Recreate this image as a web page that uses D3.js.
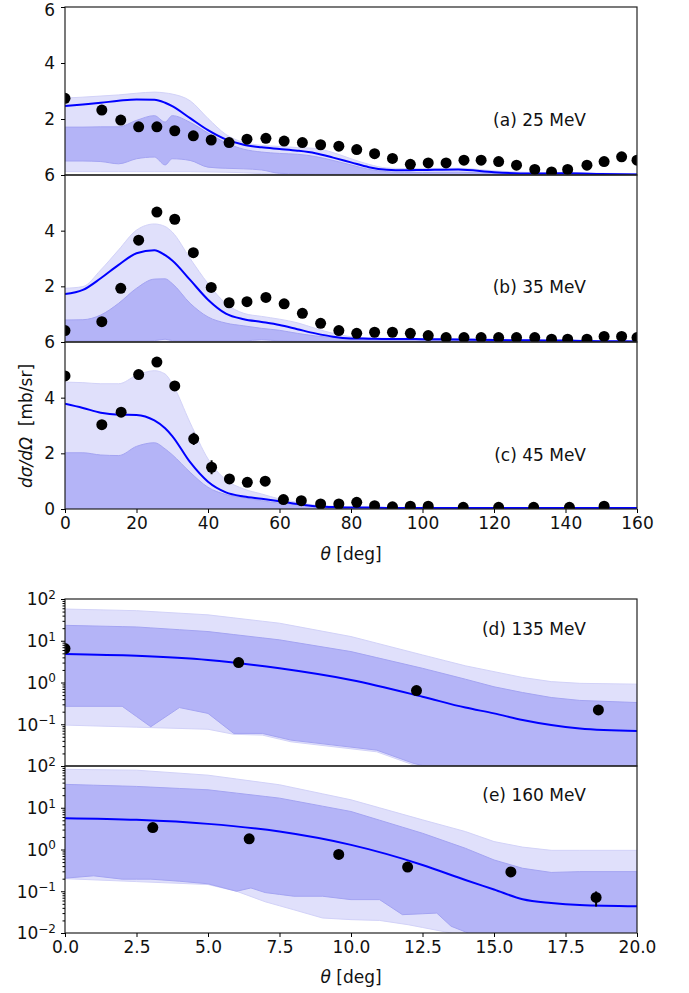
<!DOCTYPE html>
<html>
<head>
<meta charset="utf-8">
<script src="https://cdn.jsdelivr.net/npm/d3@7"></script>
<style>
  body { margin: 0; background: #fff; }
  svg { display: block; font-family: 'DejaVu Sans', sans-serif; }
</style>
</head>
<body>
<svg id="chart" width="689" height="993"></svg>
<script>
// ---------- data ----------
// top three panels: angle in deg, cross section in mb/sr
const thetaAB = [0, 10.3, 15.6, 20.6, 25.7, 30.7, 35.9, 40.9, 45.9, 50.9, 56.2, 61.3, 66.4, 71.5, 76.6, 81.6, 86.6, 91.6, 96.6, 101.6, 106.6, 111.6, 116.4, 121.3, 126.3, 131.4, 136.1, 140.6, 146.0, 150.8, 155.7, 160]
const sigmaA = [2.74, 2.32, 1.96, 1.72, 1.72, 1.58, 1.40, 1.25, 1.16, 1.28, 1.31, 1.21, 1.16, 1.08, 1.03, 0.91, 0.76, 0.59, 0.38, 0.43, 0.43, 0.53, 0.53, 0.48, 0.35, 0.20, 0.11, 0.20, 0.35, 0.48, 0.65, 0.53]
const sigmaB = [0.41, 0.73, 1.93, 3.66, 4.67, 4.41, 3.21, 1.96, 1.41, 1.45, 1.60, 1.37, 1.03, 0.67, 0.41, 0.31, 0.35, 0.35, 0.31, 0.23, 0.16, 0.16, 0.16, 0.16, 0.16, 0.16, 0.10, 0.10, 0.10, 0.20, 0.20, 0.16]
const thetaC = [0, 10.3, 15.7, 20.6, 25.7, 30.7, 36.0, 41.0, 46.0, 51.0, 56.0, 61.1, 66.1, 71.5, 76.6, 81.6, 86.6, 91.6, 96.6, 101.6, 111.4, 121.3, 131.1, 141.1, 150.8]
const sigmaC = [4.78, 3.03, 3.48, 4.83, 5.28, 4.42, 2.52, 1.50, 1.08, 0.96, 1.00, 0.34, 0.30, 0.18, 0.18, 0.24, 0.12, 0.08, 0.10, 0.10, 0.06, 0.06, 0.06, 0.06, 0.10]
const errC = [0.12, 0.08, 0.10, 0.12, 0.15, 0.12, 0.22, 0.25, 0.10, 0.10, 0.12, 0.08, 0.08, 0.06, 0.06, 0.06, 0.05, 0.05, 0.05, 0.05, 0.04, 0.04, 0.04, 0.04, 0.06]

// theory curve grid for the top panels
const gridTop = [0, 5, 10, 15, 20, 25, 28, 30, 35, 40, 45, 50, 55, 60, 65, 70, 75, 80, 85, 90, 95, 100, 110, 120, 130, 140, 150, 160]
const lineA = [2.46, 2.52, 2.58, 2.65, 2.70, 2.69, 2.58, 2.46, 2.03, 1.60, 1.27, 1.08, 0.99, 0.93, 0.87, 0.78, 0.62, 0.45, 0.28, 0.19, 0.17, 0.18, 0.20, 0.10, 0.05, 0.06, 0.04, 0.02]
const hi95A = [2.75, 2.78, 2.82, 2.86, 2.92, 2.96, 2.93, 2.89, 2.65, 2.02, 1.45, 1.16, 1.06, 1.02, 0.98, 0.95, 0.80, 0.58, 0.38, 0.25, 0.23, 0.23, 0.24, 0.15, 0.09, 0.08, 0.06, 0.05]
const hi68A = [1.71, 1.71, 1.72, 1.72, 1.95, 2.12, 1.89, 2.12, 1.88, 1.50, 1.15, 0.92, 0.82, 0.77, 0.74, 0.66, 0.52, 0.36, 0.20, 0.12, 0.09, 0.09, 0.10, 0.06, 0.05, 0.05, 0.04, 0.03]
const lo68A = [0.50, 0.50, 0.48, 0.40, 0.58, 0.64, 0.36, 0.58, 0.52, 0.28, 0.24, 0.22, 0.18, 0.06, 0.04, 0.03, 0.03, 0.03, 0.02, 0.02, 0.02, 0.02, 0.02, 0.02, 0.02, 0.02, 0.02, 0.02]
const lo95A = [0.12, 0.12, 0.12, 0.12, 0.12, 0.12, 0.12, 0.12, 0.12, 0.11, 0.10, 0.08, 0.05, 0.02, 0.01, 0.01, 0.01, 0.01, 0.01, 0.01, 0.01, 0.01, 0.01, 0.01, 0.01, 0.01, 0.01, 0.01]

const lineB = [1.72, 1.87, 2.29, 2.77, 3.19, 3.30, 3.12, 2.93, 2.23, 1.52, 1.02, 0.82, 0.72, 0.61, 0.46, 0.31, 0.19, 0.13, 0.12, 0.11, 0.11, 0.10, 0.09, 0.07, 0.06, 0.05, 0.03, 0.02]
const hi95B = [1.93, 1.99, 2.59, 3.31, 4.02, 4.24, 4.15, 3.95, 3.00, 2.10, 1.38, 1.03, 0.92, 0.82, 0.69, 0.49, 0.31, 0.19, 0.15, 0.13, 0.13, 0.12, 0.12, 0.10, 0.08, 0.06, 0.05, 0.04]
const hi68B = [0.79, 0.80, 0.97, 1.39, 1.93, 2.26, 2.27, 2.10, 1.39, 0.90, 0.68, 0.58, 0.49, 0.42, 0.31, 0.22, 0.16, 0.11, 0.09, 0.08, 0.07, 0.06, 0.05, 0.05, 0.04, 0.03, 0.02, 0.01]
const lo68B = [0.04, 0.04, 0.04, 0.04, 0.04, 0.05, 0.10, 0.05, 0.04, 0.04, 0.04, 0.04, 0.08, 0.04, 0.03, 0.02, 0.02, 0.02, 0.01, 0.01, 0.01, 0.01, 0.01, 0.01, 0.01, 0.01, 0.01, 0.01]
const lo95B = [0, 0, 0, 0, 0, 0, 0, 0, 0, 0, 0, 0, 0, 0, 0, 0, 0, 0, 0, 0, 0, 0, 0, 0, 0, 0, 0, 0]

const lineC = [3.78, 3.63, 3.46, 3.39, 3.38, 3.18, 2.90, 2.62, 1.68, 0.98, 0.60, 0.45, 0.37, 0.28, 0.18, 0.10, 0.07, 0.05, 0.05, 0.04, 0.04, 0.04, 0.04, 0.04, 0.04, 0.04, 0.04, 0.04]
const hi95C = [4.56, 4.54, 4.50, 4.50, 4.80, 4.97, 4.85, 4.50, 3.10, 1.80, 1.05, 0.72, 0.54, 0.36, 0.24, 0.14, 0.10, 0.07, 0.06, 0.06, 0.05, 0.05, 0.05, 0.05, 0.05, 0.05, 0.05, 0.05]
const hi68C = [2.02, 2.02, 1.94, 1.92, 2.25, 2.38, 2.16, 1.95, 1.32, 0.78, 0.52, 0.40, 0.30, 0.21, 0.15, 0.10, 0.07, 0.05, 0.04, 0.04, 0.04, 0.03, 0.03, 0.03, 0.03, 0.03, 0.03, 0.03]
const lo68C = [0, 0, 0, 0, 0, 0, 0, 0, 0, 0, 0, 0, 0, 0, 0, 0, 0, 0, 0, 0, 0, 0, 0, 0, 0, 0, 0, 0]

// bottom two panels (log scale)
const thetaD = [0, 6.07, 12.29, 18.65]
const sigmaD = [6.5, 3.0, 0.64, 0.22]
const errD = [0.4, 0.2, 0.05, 0.02]
const thetaE = [3.07, 6.44, 9.57, 11.98, 15.59, 18.57]
const sigmaE = [3.36, 1.8, 0.76, 0.38, 0.29, 0.071]
const errE = [0.3, 0.15, 0.06, 0.03, 0.02, 0.028]

const gridBot = [0, 2.5, 5, 7.5, 10, 12.5, 14, 15, 16, 17, 18, 20]
const lineD = [4.84, 4.37, 3.47, 2.19, 1.15, 0.457, 0.251, 0.182, 0.126, 0.0955, 0.0794, 0.0692]
const hi95D = [57.5, 52.5, 41.7, 26.3, 12.6, 4.57, 2.51, 1.82, 1.32, 1.05, 0.955, 0.912]
const hi68D = [23.4, 21.4, 16.6, 10.5, 5.5, 2.19, 1.2, 0.79, 0.575, 0.437, 0.372, 0.331]
const lo68Dx = [0, 2, 3, 4, 5, 5.9, 6.9, 7.9, 10.9, 12.2, 12.7, 13.5, 20]
const lo68D = [0.269, 0.269, 0.0871, 0.251, 0.182, 0.0603, 0.0603, 0.0417, 0.024, 0.0115, 0.0095, 0.005, 0.0001]
const lo95Dx = [0, 5, 5.9, 6.9, 7.9, 10.9, 12.2, 12.7, 13.3, 20]
const lo95D = [0.0955, 0.0759, 0.0575, 0.055, 0.038, 0.0219, 0.0105, 0.0083, 0.005, 0.0001]

const lineE = [5.61, 5.13, 4.11, 2.69, 1.29, 0.427, 0.186, 0.110, 0.0646, 0.0525, 0.0468, 0.0437]
const hi95E = [83.2, 79.4, 60.3, 35.5, 15.5, 5.13, 2.69, 1.55, 1.14, 0.955, 0.955, 0.955]
const hi68E = [36.3, 32.4, 26.9, 17.0, 8.13, 2.45, 1.07, 0.562, 0.355, 0.282, 0.295, 0.295]
const lo68Ex = [0, 1, 2, 3, 4, 5, 6, 6.5, 7, 8, 9, 10, 11, 11.8, 13, 13.5, 14.1, 15, 20]
const lo68E = [0.206, 0.234, 0.195, 0.195, 0.174, 0.151, 0.1, 0.12, 0.093, 0.076, 0.076, 0.063, 0.063, 0.0275, 0.030, 0.0145, 0.01, 0.001, 0.0001]
const lo95Ex = [0, 5, 6, 7, 8, 9, 10, 11, 12, 13.5, 14.5, 20]
const lo95E = [0.2, 0.145, 0.1, 0.056, 0.036, 0.0229, 0.0209, 0.02, 0.0158, 0.01, 0.004, 0.0001]

const panelLabels = ['(a) 25 MeV', '(b) 35 MeV', '(c) 45 MeV', '(d) 135 MeV', '(e) 160 MeV']
const linTicks = [0, 2, 4, 6]
const degTicksTop = [0, 20, 40, 60, 80, 100, 120, 140, 160]
const degTicksBot = [0, 2.5, 5, 7.5, 10, 12.5, 15, 17.5, 20]
const logTicks = [1e-2, 1e-1, 1, 10, 100]
const logExp = ['\u22122', '\u22121', '0', '1', '2']

// ---------- drawing ----------
const svg = d3.select('#chart')
const left = 65
const right = 637
const light = '#e0e0fb'
const dark = '#b4b4f7'
const blue = '#0000ff'
const fs = 17

const zip = (xs, ...cols) => xs.map((x, i) => ({ x, v: cols.map(c => c[i]) }))

function drawPanel (p, idx) {
  const x = d3.scaleLinear().domain(p.xDomain).range([left, right])
  const y = p.log
    ? d3.scaleLog().domain([1e-2, 1e2]).range([p.bottom, p.top])
    : d3.scaleLinear().domain([0, 6]).range([p.bottom, p.top])

  const clipId = 'clip' + idx
  svg.append('clipPath').attr('id', clipId)
    .append('rect')
    .attr('x', left).attr('y', p.top)
    .attr('width', right - left).attr('height', p.bottom - p.top)

  const g = svg.append('g').attr('clip-path', `url(#${clipId})`)
  const bandCurve = p.log ? d3.curveLinear : d3.curveMonotoneX

  // outer band
  g.append('path')
    .datum(zip(p.bandX95, p.lo95, p.hi95))
    .attr('fill', light)
    .attr('stroke', '#d2d2f8')
    .attr('stroke-width', 1)
    .attr('d', d3.area().curve(bandCurve)
      .x(d => x(d.x)).y0(d => y(d.v[0])).y1(d => y(d.v[1])))

  // inner band
  g.append('path')
    .datum(zip(p.bandX68, p.lo68, p.hi68))
    .attr('fill', dark)
    .attr('stroke', '#a4a4f2')
    .attr('stroke-width', 1)
    .attr('d', d3.area().curve(bandCurve)
      .x(d => x(d.x)).y0(d => y(d.v[0])).y1(d => y(d.v[1])))

  g.append('path')
    .datum(zip(p.lineX, p.line))
    .attr('fill', 'none')
    .attr('stroke', blue)
    .attr('stroke-width', 2)
    .attr('d', d3.line().curve(d3.curveMonotoneX).x(d => x(d.x)).y(d => y(d.v[0])))

  const pts = zip(p.px, p.py, p.pe)
  g.selectAll('line.err').data(pts).enter().append('line')
    .attr('x1', d => x(d.x)).attr('x2', d => x(d.x))
    .attr('y1', d => y(d.v[0] + d.v[1]))
    .attr('y2', d => y(Math.max(d.v[0] - d.v[1], p.log ? 1e-3 : 0)))
    .attr('stroke', '#000').attr('stroke-width', 2)
  g.selectAll('circle').data(pts).enter().append('circle')
    .attr('cx', d => x(d.x)).attr('cy', d => y(d.v[0]))
    .attr('r', 5.5).attr('fill', '#000')

  // frame
  svg.append('rect')
    .attr('x', left).attr('y', p.top)
    .attr('width', right - left).attr('height', p.bottom - p.top)
    .attr('fill', 'none').attr('stroke', '#222').attr('stroke-width', 1.2)

  // y axis
  if (p.log) {
    const minor = []
    for (let e = -2; e < 2; e++) for (let m = 2; m <= 9; m++) minor.push(m * Math.pow(10, e))
    svg.append('g').attr('transform', `translate(${left},0)`)
      .call(d3.axisLeft(y).tickValues(minor).tickSize(2.5).tickFormat(''))
      .call(a => a.select('.domain').remove())
    const shown = p.hideBottom ? logTicks.slice(1) : logTicks
    const ay = svg.append('g').attr('transform', `translate(${left},0)`)
      .call(d3.axisLeft(y).tickValues(shown).tickSize(4).tickPadding(5).tickFormat(''))
      .call(a => a.select('.domain').remove())
    ay.selectAll('.tick text').each(function (d) {
      const t = d3.select(this)
      const k = logTicks.indexOf(d)
      t.attr('font-size', fs).attr('font-family', 'DejaVu Sans').attr('fill', '#111')
        .attr('dy', '0.35em')
      t.append('tspan').text('10')
      t.append('tspan').attr('dy', '-0.55em').attr('font-size', 12).text(logExp[k])
    })
  } else {
    const shown = p.hideBottom ? linTicks.slice(1) : linTicks
    svg.append('g').attr('transform', `translate(${left},0)`)
      .call(d3.axisLeft(y).tickValues(shown).tickSize(4).tickPadding(6).tickFormat(d3.format('d')))
      .call(a => a.select('.domain').remove())
      .call(a => a.selectAll('text').attr('font-size', fs).attr('font-family', 'DejaVu Sans').attr('fill', '#111'))
      // the top label of the first panel sits right at the page edge: nudge it in
      .call(a => a.selectAll('.tick text').filter(d => idx === 0 && d === 6).attr('dy', '0.5em'))
  }

  // x axis
  if (p.xTicks) {
    svg.append('g').attr('transform', `translate(0,${p.bottom})`)
      .call(d3.axisBottom(x).tickValues(p.xTicks).tickSize(4).tickPadding(4)
        .tickFormat(p.log ? d3.format('.1f') : d3.format('d')))
      .call(a => a.select('.domain').remove())
      .call(a => a.selectAll('text').attr('font-size', fs).attr('font-family', 'DejaVu Sans').attr('fill', '#111'))
  }

  svg.append('text')
    .attr('x', 586).attr('y', p.top + p.labelDy)
    .attr('text-anchor', 'end')
    .attr('font-size', fs).attr('fill', '#111')
    .text(panelLabels[idx])
}

const topPanels = [
  { top: 7, bottom: 175, px: thetaAB, py: sigmaA, pe: sigmaA.map(() => 0.05), line: lineA, hi95: hi95A, lo95: lo95A, hi68: hi68A, lo68: lo68A, hideBottom: true, labelDy: 119 },
  { top: 175, bottom: 342, px: thetaAB, py: sigmaB, pe: sigmaB.map(() => 0.05), line: lineB, hi95: hi95B, lo95: lo95B, hi68: hi68B, lo68: lo68B, hideBottom: true, labelDy: 118 },
  { top: 342, bottom: 509, px: thetaC, py: sigmaC, pe: errC, line: lineC, hi95: hi95C, lo95: lo68C, hi68: hi68C, lo68: lo68C, hideBottom: false, xTicks: degTicksTop, labelDy: 119 }
]
topPanels.forEach((p, i) => {
  Object.assign(p, { xDomain: [0, 160], log: false, lineX: gridTop, bandX95: gridTop, bandX68: gridTop })
  drawPanel(p, i)
})

// bottom panels: smooth upper edge and jagged lower edge sampled on one merged grid
function logBand (gx, hi, lx, lo) {
  const xs = Array.from(new Set([...gx, ...lx])).sort((a, b) => a - b)
  const interp = (X, Y) => t => {
    const f = d3.scaleLinear().domain(X).range(Y.map(Math.log10))
    return Math.pow(10, f(t))
  }
  const fh = interp(gx, hi)
  const fl = interp(lx, lo)
  return { xs, hi: xs.map(fh), lo: xs.map(fl) }
}

const bD95 = logBand(gridBot, hi95D, lo95Dx, lo95D)
const bD68 = logBand(gridBot, hi68D, lo68Dx, lo68D)
const bE95 = logBand(gridBot, hi95E, lo95Ex, lo95E)
const bE68 = logBand(gridBot, hi68E, lo68Ex, lo68E)

const botPanels = [
  { top: 599, bottom: 766, px: thetaD, py: sigmaD, pe: errD, line: lineD, b95: bD95, b68: bD68, hideBottom: true, labelDy: 36 },
  { top: 766, bottom: 933, px: thetaE, py: sigmaE, pe: errE, line: lineE, b95: bE95, b68: bE68, hideBottom: false, xTicks: degTicksBot, labelDy: 35 }
]
botPanels.forEach((p, i) => {
  Object.assign(p, {
    xDomain: [0, 20], log: true, lineX: gridBot,
    bandX95: p.b95.xs, lo95: p.b95.lo, hi95: p.b95.hi,
    bandX68: p.b68.xs, lo68: p.b68.lo, hi68: p.b68.hi
  })
  drawPanel(p, i + 3)
})

// axis titles
const ylab = svg.append('text')
  .attr('transform', 'translate(32,426) rotate(-90)')
  .attr('text-anchor', 'middle')
  .attr('font-size', fs).attr('fill', '#111')
ylab.append('tspan').attr('font-style', 'italic').text('d\u03c3/d\u03a9')
ylab.append('tspan').text('\u00a0\u00a0[mb/sr]')

;[560, 983].forEach(yy => {
  const t = svg.append('text')
    .attr('x', 351).attr('y', yy)
    .attr('text-anchor', 'middle')
    .attr('font-size', fs).attr('fill', '#111')
  t.append('tspan').attr('font-style', 'italic').text('\u03b8')
  t.append('tspan').text(' [deg]')
})
</script>
</body>
</html>
